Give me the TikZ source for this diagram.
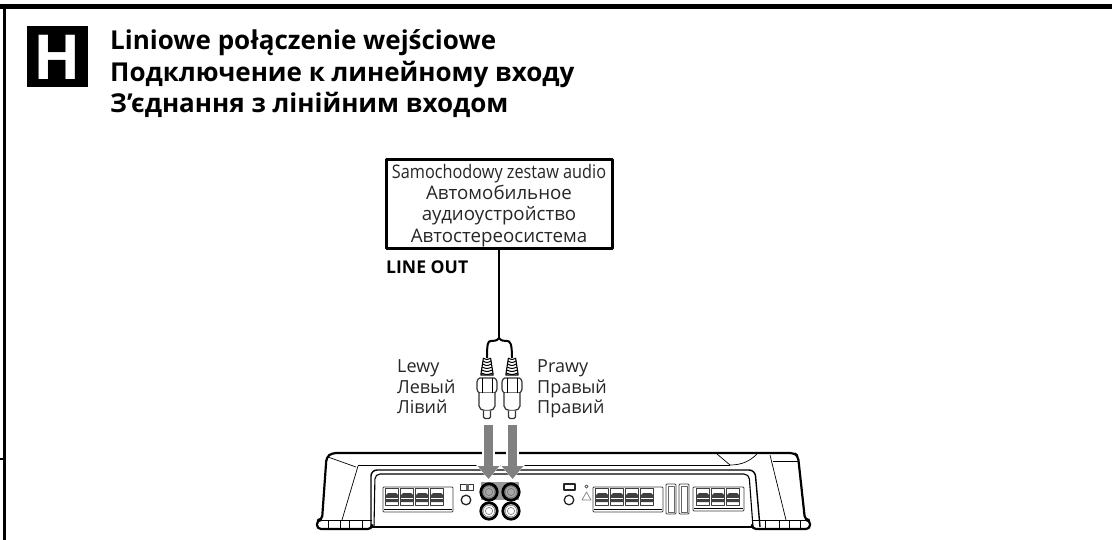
\documentclass[tikz,border=0pt]{standalone}
\usepackage{fontspec}
\setmainfont{Open Sans}
\usetikzlibrary{arrows.meta}
\begin{document}
\begin{tikzpicture}
    [x=1pt, y=-1pt, line join=round,
    FrameLine/.style={draw=black, line width=3pt},
    TitleText/.style={anchor=base west, inner sep=0pt, font=\fontsize{26}{26}\selectfont\bfseries},
    BoxText/.style={anchor=base, inner sep=0pt, text=black!85, font=\fontsize{18.7}{18.7}\selectfont},
    SideText/.style={anchor=base west, inner sep=0pt, text=black!85, font=\fontsize{18}{18}\selectfont},
    AmpThick/.style={draw=black, line width=2.2pt},
    AmpThin/.style={draw=black, line width=0.7pt},
    PartLine/.style={draw=black!80, line width=0.9pt, fill=white},
    Cable/.style={draw=black, line width=2pt},
    GreyArrow/.style={draw=black!50, line width=9pt, -{Triangle[width=21pt,length=13pt]}},
    HaloArrow/.style={draw=white, line width=13pt, -{Triangle[width=29pt,length=17pt]}},
    rcaplug/.pic={
        \foreach \ribY/\ribW in {358/3.6,361/4,364/4.5,367/5,370/5.4,373/5.8}
            \draw[black, line width=1pt] (-\ribW,\ribY) .. controls (0,\ribY+2) .. (\ribW,\ribY);
        \draw[black, line width=1.1pt] (-3.6,358) -- (-6.2,375) -- (6.2,375) -- (3.6,358);
        \draw[PartLine, line width=1.2pt, rounded corners=1pt] (-10,381) -- (-8,378) -- (8,378) -- (10,381) -- (10,390) -- (8,393) -- (-8,393) -- (-10,390) -- cycle;
        \draw[black, line width=0.7pt] (-5,378) -- (-5,393) (5,378) -- (5,393);
        \draw[PartLine, line width=1.2pt, rounded corners=2pt] (-8,393) -- (-8,408) -- (-4,410.5) -- (4,410.5) -- (8,408) -- (8,393);
        \draw[PartLine, line width=1.1pt, rounded corners=1.5pt] (-3.5,410.5) -- (-3.5,418.5) -- (3.5,418.5) -- (3.5,410.5);
    },
    rcajack/.pic={
        \draw[black, line width=2.8pt] (0,0) circle (8.2);
        \draw[black!55, line width=0.5pt, fill=#1] (0,0) circle (5.8);
        \draw[black!55, line width=0.6pt, fill=#1] (0,0) circle (3.6);
    },
    termslot/.pic={
        \draw[black!75, line width=0.7pt] (-6.5,1) rectangle (6.5,18);
        \fill[black!75] (-6,8) -- (-4,6) -- (4,6) -- (6,8) -- (6,15) -- (-6,15) -- cycle;
        \draw[white, line width=0.6pt] (-6,11) -- (6,11);
    }]
    \useasboundingbox (0,0) rectangle (1112,540);

    % page frame
    \fill[black] (0,4) rectangle (1112,9);
    \coordinate (frameTop) at (4.5,9);
    \coordinate (frameBottom) at (4.5,540);
    \draw[FrameLine] (frameTop) -- (frameBottom);
    \draw[black, line width=2pt] (0,459) -- (4.5,459);

    % heading
    \node[fill=black, minimum size=61pt, inner sep=0pt] (letterBox) at (57.5,57) {};
    \node[text=white, inner sep=0pt, font=\fontsize{62}{62}\selectfont\bfseries] (letterH) at (letterBox.center) {H};
    \node[TitleText] (titlePl) at (110,50) {Liniowe połączenie wejściowe};
    \node[TitleText] (titleRu) at (110,82) {Подключение к линейному входу};
    \node[TitleText] (titleUk) at (110,113) {З’єднання з лінійним входом};

    % source unit
    \node[draw=black, line width=3pt, minimum width=226pt, minimum height=89pt, inner sep=0pt] (carAudio) at (499,204.5) {};
    \node[BoxText] (carPl) at (499,179) {\scalebox{0.87}[1]{Samochodowy zestaw audio}};
    \node[BoxText] (carRu1) at (499,200) {Автомобильное};
    \node[BoxText] (carRu2) at (499,221) {аудиоустройство};
    \node[BoxText] (carUk) at (499,243) {Автостереосистема};
    \node[anchor=base west, inner sep=0pt, font=\fontsize{17.6}{17.6}\selectfont\bfseries] (lineOut) at (386,274) {LINE OUT};

    % cable
    \coordinate (split) at (499,338);
    \coordinate (plugL) at (487,358);
    \coordinate (plugR) at (512,358);
    \draw[Cable] (carAudio.south -| split) -- (split);
    \draw[Cable] (split) .. controls (497,341) and (494,341) .. (491,341) .. controls (488,341) and (487,343) .. (plugL);
    \draw[Cable] (split) .. controls (501,341) and (504,341) .. (507,341) .. controls (510,341) and (512,343) .. (plugR);
    \pic at (487,0) {rcaplug};
    \pic at (512,0) {rcaplug};

    \node[SideText] (leftPl) at (397,372) {Lewy};
    \node[SideText] (leftRu) at (397,393) {Левый};
    \node[SideText] (leftUk) at (397,413.5) {Лівий};
    \node[SideText] (rightPl) at (537,372) {Prawy};
    \node[SideText] (rightRu) at (537,393) {Правый};
    \node[SideText] (rightUk) at (537,413.5) {Правий};

    % amplifier body
    \draw[AmpThick, rounded corners=4pt] (372,527) -- (372,529) -- (317,529) -- (317,520) -- (322,520) -- (326.5,457) -- (332,453) -- (794,453) -- (798,456) -- (805,520) -- (810,520) -- (810,529) -- (752,529) -- (752,527);
    \draw[AmpThick] (372,527) -- (752,527);
    \draw[AmpThin] (328,457) -- (356,467);
    \draw[AmpThin] (358,466) -- (342,520);
    \draw[AmpThin] (358,465) -- (730,465);
    \draw[AmpThin] (717,454) -- (730,465) .. controls (742,465) and (750,461) .. (757,454);
    \draw[AmpThin] (770,455) -- (786,520);
    \draw[AmpThin] (773,461) -- (799,461);
    \draw[AmpThin] (317,520) -- (372,520);
    \draw[AmpThin] (752,520) -- (810,520);
    \foreach \tickX in {328,340,349,362,765,779,789,800}
        \draw[AmpThin] (\tickX,520) -- (\tickX,529);
    \draw[black, line width=1.4pt, rounded corners=6pt] (371,527) -- (371,470) -- (755,470) -- (760,527);
    \draw[black, line width=1.1pt, rounded corners=5pt] (374,527) -- (375,474) -- (749,474) -- (753,527);

    % terminal blocks
    \draw[black!75, line width=0.9pt, rounded corners=1pt] (383,487) -- (453,487) -- (453,512) -- (383,512) -- cycle;
    \draw[black, line width=1.2pt] (384,509.5) -- (452,509.5);
    \foreach \slotX in {392,407,422,437}
        \pic at (\slotX,487) {termslot};
    \draw[black!75, line width=0.9pt, rounded corners=1pt] (593,487) -- (663,487) -- (663,512) -- (593,512) -- cycle;
    \draw[black, line width=1.2pt] (594,509.5) -- (662,509.5);
    \foreach \slotX in {602,617,632,647}
        \pic at (\slotX,487) {termslot};
    \draw[black!75, line width=0.9pt, rounded corners=1pt] (693,487) -- (744,487) -- (744,511) -- (693,511) -- cycle;
    \draw[black, line width=1.2pt] (694,508.5) -- (743,508.5);
    \foreach \slotX in {703,718,733}
        \pic at (\slotX,487) {termslot};

    % fuses
    \draw[black!75, line width=0.9pt, fill=white, rounded corners=1pt] (666,484) rectangle (676,514);
    \draw[black!60, line width=0.5pt] (668,486) rectangle (674,512);
    \draw[black!75, line width=0.9pt, fill=white, rounded corners=1pt] (679,484) rectangle (689,514);
    \draw[black!60, line width=0.5pt] (681,486) rectangle (687,512);

    % switches and marks
    \draw[black!80, line width=0.9pt] (460,484) rectangle (473,490);
    \fill[black!60] (466,484) rectangle (469,490);
    \draw[black!85, line width=1.3pt] (466,500) circle (4.8);
    \draw[black!85, line width=1.1pt] (564,484) rectangle (575,490);
    \draw[black!85, line width=1.3pt] (569,500) circle (4.8);
    \draw[black!70, line width=0.8pt] (586.5,486.5) circle (1.6);
    \draw[black!50, line width=0.7pt] (586.5,492) -- (591,500) -- (582,500) -- cycle;

    % line input jacks
    \fill[black!40] (481,482) rectangle (519,500);
    \pic at (489,492) {rcajack=black!35};
    \pic at (511,492) {rcajack=black!35};
    \pic at (489,511) {rcajack=white};
    \pic at (511,511) {rcajack=white};

    % insertion arrows
    \coordinate (arrowStartL) at (488.5,425);
    \coordinate (arrowEndL) at (488.5,479);
    \coordinate (arrowStartR) at (512.5,425);
    \coordinate (arrowEndR) at (512.5,479);
    \draw[HaloArrow] (arrowStartL) -- (arrowEndL);
    \draw[HaloArrow] (arrowStartR) -- (arrowEndR);
    \draw[GreyArrow] (arrowStartL) -- (arrowEndL);
    \draw[GreyArrow] (arrowStartR) -- (arrowEndR);
\end{tikzpicture}
\end{document}
